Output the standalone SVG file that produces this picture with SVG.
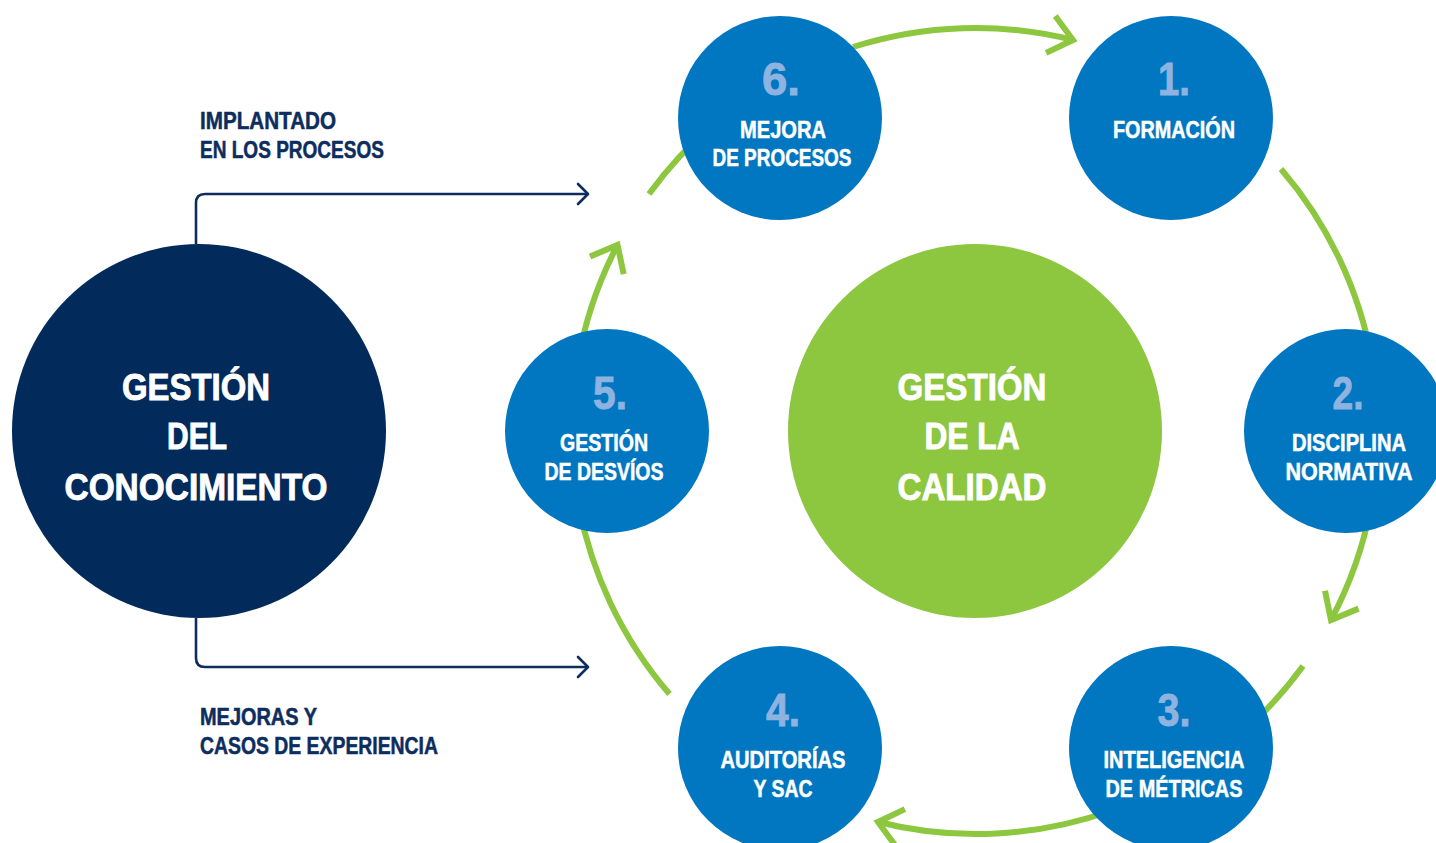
<svg xmlns="http://www.w3.org/2000/svg" width="1436" height="843" viewBox="0 0 1436 843">
<defs>
<style>
.t{font-family:"Liberation Sans Narrow","Liberation Sans",Arial,sans-serif;font-weight:bold;}
.lab{fill:#0d2d5e;font-size:23px;stroke:#0d2d5e;stroke-width:0.5;}
.big{fill:#ffffff;font-size:37px;text-anchor:middle;stroke:#ffffff;stroke-width:0.9;}
.num{fill:#8fb3e0;font-size:47px;text-anchor:middle;stroke:#8fb3e0;stroke-width:0.9;}
.sm{fill:#ffffff;font-size:23px;text-anchor:middle;stroke:#ffffff;stroke-width:0.5;}
.arc{fill:none;stroke:#8dc63f;stroke-width:6;}
.nav{fill:none;stroke:#0d2d5e;stroke-width:2.6;}
.blue{fill:#0077c0;}
</style>
<marker id="gch" markerUnits="userSpaceOnUse" markerWidth="60" markerHeight="60" viewBox="-30 -30 60 60" refX="0" refY="0" orient="auto" overflow="visible">
<path d="M-23,-19 L0,0 L-23,19" fill="none" stroke="#8dc63f" stroke-width="6"/>
</marker>
<marker id="nch" markerUnits="userSpaceOnUse" markerWidth="30" markerHeight="30" viewBox="-15 -15 30 30" refX="0" refY="0" orient="auto" overflow="visible">
<path d="M-10,-10 L0,0 L-10,10" fill="none" stroke="#0d2d5e" stroke-width="2.6" stroke-linecap="round" stroke-linejoin="round"/>
</marker>
</defs>
<rect width="1436" height="843" fill="#ffffff"/>
<g id="connectors">
<path class="arc" d="M853,47 A403,403 0 0 1 1073,40" marker-end="url(#gch)"/>
<path class="arc" d="M1281,169 A403,403 0 0 1 1372,361"/>
<path class="arc" d="M1372,501 A403,403 0 0 1 1331,620" marker-end="url(#gch)"/>
<path class="arc" d="M1303,666 A403,403 0 0 1 1260,716"/>
<path class="arc" d="M1113,810 A403,403 0 0 1 878,822" marker-end="url(#gch)"/>
<path class="arc" d="M669.5,694 A403,403 0 0 1 578,501"/>
<path class="arc" d="M578,361 A403,403 0 0 1 617.5,245" marker-end="url(#gch)"/>
<path class="arc" d="M649,194 A403,403 0 0 1 716,122"/>
<path class="nav" d="M196,244 V203 Q196,194 205,194 H588" marker-end="url(#nch)"/>
<path class="nav" d="M196,618 V658 Q196,667 205,667 H588" marker-end="url(#nch)"/>
</g>
<g id="label-implantado">
<text class="t lab" x="200" y="129" textLength="136" lengthAdjust="spacingAndGlyphs">IMPLANTADO</text>
<text class="t lab" x="200" y="158" textLength="184" lengthAdjust="spacingAndGlyphs">EN LOS PROCESOS</text>
</g>
<g id="label-mejoras">
<text class="t lab" x="200" y="725" textLength="117" lengthAdjust="spacingAndGlyphs">MEJORAS Y</text>
<text class="t lab" x="200" y="754" textLength="238" lengthAdjust="spacingAndGlyphs">CASOS DE EXPERIENCIA</text>
</g>
<g id="node-conocimiento">
<circle cx="199" cy="431" r="187" fill="#022a5b"/>
<text class="t big" x="196" y="400" textLength="148" lengthAdjust="spacingAndGlyphs">GESTIÓN</text>
<text class="t big" x="197" y="449" textLength="60" lengthAdjust="spacingAndGlyphs">DEL</text>
<text class="t big" x="196" y="500" textLength="263" lengthAdjust="spacingAndGlyphs">CONOCIMIENTO</text>
</g>
<g id="node-calidad">
<circle cx="975" cy="431" r="187" fill="#8dc63f"/>
<text class="t big" x="972" y="400" textLength="149" lengthAdjust="spacingAndGlyphs">GESTIÓN</text>
<text class="t big" x="972" y="449" textLength="95" lengthAdjust="spacingAndGlyphs">DE LA</text>
<text class="t big" x="972" y="500" textLength="149" lengthAdjust="spacingAndGlyphs">CALIDAD</text>
</g>
<g id="node-1">
<circle class="blue" cx="1171" cy="118" r="102"/>
<text class="t num" x="1174" y="95" textLength="32" lengthAdjust="spacingAndGlyphs">1.</text>
<text class="t sm" x="1174" y="138" textLength="122" lengthAdjust="spacingAndGlyphs">FORMACIÓN</text>
</g>
<g id="node-2">
<circle class="blue" cx="1346" cy="431" r="102"/>
<text class="t num" x="1348" y="409" textLength="31" lengthAdjust="spacingAndGlyphs">2.</text>
<text class="t sm" x="1349" y="451" textLength="114" lengthAdjust="spacingAndGlyphs">DISCIPLINA</text>
<text class="t sm" x="1349" y="480" textLength="127" lengthAdjust="spacingAndGlyphs">NORMATIVA</text>
</g>
<g id="node-3">
<circle class="blue" cx="1171" cy="748" r="102"/>
<text class="t num" x="1174" y="726" textLength="33" lengthAdjust="spacingAndGlyphs">3.</text>
<text class="t sm" x="1174" y="768" textLength="141" lengthAdjust="spacingAndGlyphs">INTELIGENCIA</text>
<text class="t sm" x="1174" y="797" textLength="137" lengthAdjust="spacingAndGlyphs">DE MÉTRICAS</text>
</g>
<g id="node-4">
<circle class="blue" cx="780" cy="748" r="102"/>
<text class="t num" x="783" y="726" textLength="34" lengthAdjust="spacingAndGlyphs">4.</text>
<text class="t sm" x="783" y="768" textLength="125" lengthAdjust="spacingAndGlyphs">AUDITORÍAS</text>
<text class="t sm" x="783" y="797" textLength="59" lengthAdjust="spacingAndGlyphs">Y SAC</text>
</g>
<g id="node-5">
<circle class="blue" cx="607" cy="431" r="102"/>
<text class="t num" x="610" y="409" textLength="34" lengthAdjust="spacingAndGlyphs">5.</text>
<text class="t sm" x="604" y="451" textLength="88" lengthAdjust="spacingAndGlyphs">GESTIÓN</text>
<text class="t sm" x="604" y="480" textLength="119" lengthAdjust="spacingAndGlyphs">DE DESVÍOS</text>
</g>
<g id="node-6">
<circle class="blue" cx="780" cy="118" r="102"/>
<text class="t num" x="781" y="95" textLength="38" lengthAdjust="spacingAndGlyphs">6.</text>
<text class="t sm" x="783" y="138" textLength="86" lengthAdjust="spacingAndGlyphs">MEJORA</text>
<text class="t sm" x="782" y="166" textLength="139" lengthAdjust="spacingAndGlyphs">DE PROCESOS</text>
</g>
</svg>
